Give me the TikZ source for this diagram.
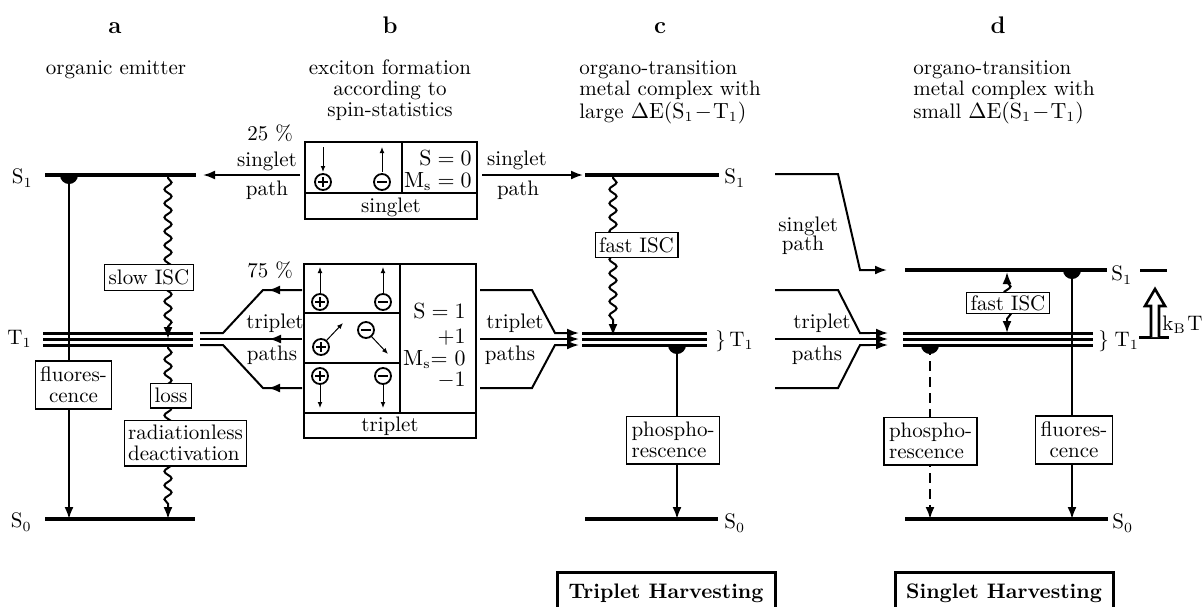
\documentclass[tikz,border=0pt]{standalone}
\usetikzlibrary{arrows.meta,decorations.pathmorphing}
\newcommand\hdisc[2]{\fill (#1-9,#2) arc[start angle=180,end angle=360,radius=4.5pt] -- cycle;}
\begin{document}
\begin{tikzpicture}[x=0.5pt,y=-0.5pt,
  font=\fontsize{10.5}{10.5}\selectfont,
  level/.style={line width=2pt},
  tlev/.style={line width=1.5pt},
  conn/.style={line width=1pt},
  tip/.style={-{Latex[length=6pt,width=4.5pt]}},
  arr/.style={conn,tip},
  wave/.style={conn,decorate,decoration={snake,amplitude=1.8pt,segment length=7pt,pre length=1pt,post length=5pt}},
  box/.style={draw,fill=white,line width=0.6pt,inner xsep=2pt,inner ysep=2.5pt,align=center},
  frame/.style={line width=0.6pt},
  hbox/.style={draw,line width=1.5pt,font=\fontsize{10.5}{11}\selectfont\bfseries,minimum width=109pt,minimum height=21.5pt},
  spin/.style={line width=0.5pt,-{Latex[length=3pt,width=2.4pt]}},
  plab/.style={font=\large\bfseries,anchor=base},
  txt/.style={anchor=base,inner sep=0pt},
  ltxt/.style={anchor=base west,inner sep=0pt},
  pos/.pic={\draw[line width=0.9pt] (0,0) circle[radius=4pt]; \draw[line width=0.8pt] (-2.4pt,0)--(2.4pt,0) (0,-2.4pt)--(0,2.4pt);},
  neg/.pic={\draw[line width=0.9pt] (0,0) circle[radius=4pt]; \draw[line width=0.8pt] (-2.4pt,0)--(2.4pt,0);}
]
\useasboundingbox (0,0) rectangle (1202,606);

% ---------- headings ----------
\node[plab] (la) at (115,33) {a};
\node[plab] (lb) at (390,33) {b};
\node[plab] (lc) at (660,33) {c};
\node[plab] (ld) at (998,33) {d};

\node[txt] (ta) at (116,74) {organic emitter};
\node[txt] (tb1) at (390,74) {exciton formation};
\node[txt] (tb2) at (390,95) {according to};
\node[txt] (tb3) at (390,116) {spin-statistics};
\node[ltxt] (tc1) at (579,74) {organo-transition};
\node[ltxt] (tc2) at (579,95) {metal complex with};
\node[ltxt] (tc3) at (579,118) {large $\Delta\mathrm{E}(\mathrm{S}_1\!-\!\mathrm{T}_1)$};
\node[ltxt] (td1) at (913,74) {organo-transition};
\node[ltxt] (td2) at (913,95) {metal complex with};
\node[ltxt] (td3) at (913,118) {small $\Delta\mathrm{E}(\mathrm{S}_1\!-\!\mathrm{T}_1)$};

% ---------- panel a ----------
\coordinate (aS1a) at (45,175); \coordinate (aS1b) at (196,175);
\coordinate (aS0a) at (45,519); \coordinate (aS0b) at (195,519);
\draw[level] (aS1a) -- (aS1b);
\draw[level] (aS0a) -- (aS0b);
\foreach \y in {333,339,345} \draw[tlev] (43,\y) -- (193,\y);
\node[anchor=east,inner sep=1pt] (aS1l) at (35,178) {S$_1$};
\node[anchor=east,inner sep=1pt] (aT1l) at (34,339) {T$_1$};
\node[anchor=east,inner sep=1pt] (aS0l) at (34,522) {S$_0$};
\hdisc{69}{175}
\draw[arr] (69,175) -- (69,519);
\draw[wave,tip] (168,176) -- (168,339);
\draw[wave,tip] (168,346) -- (168,519);
\node[box,inner xsep=2.5pt,inner ysep=3pt] (fluo) at (73.5,385) {fluores-\\cence};
\node[box] (slow) at (149,277.5) {slow ISC};
\node[box] (loss) at (171,395.5) {loss};
\node[box,align=left] (rad) at (185.5,443) {radiationless\\deactivation};

% arrows into panel a
\coordinate (bS) at (300,175);
\draw[arr] (bS) -- ([xshift=3.5pt]aS1b);
\node[inner sep=0] (p25) at (270,133) {25 \%};
\node[inner sep=0] (sg1) at (267,161) {singlet};
\node[inner sep=0] (pt1) at (267,190) {path};
\node[inner sep=0] (p75) at (270,270) {75 \%};
\node[inner sep=0] (tr1) at (275,323) {triplet};
\node[inner sep=0] (pa1) at (272,355) {paths};
\draw[conn] (302,290) -- (263,290) -- (223,333) -- (200,333);
\draw[conn] (302,339) -- (200,339);
\draw[conn] (302,388) -- (263,388) -- (223,345) -- (200,345);
\draw[arr] (302,290) -- (268,290);
\draw[arr] (302,339) -- (269,339);
\draw[arr] (302,388) -- (268,388);

% ---------- panel b ----------
\draw[frame] (305,142) rectangle (477,219);
\draw[frame] (305,193) -- (477,193) (402,142) -- (402,193);
\node (sgl) at (391,207) {singlet};
\node[anchor=base east,inner sep=0] (s0) at (472,165) {$\mathrm{S}=0$};
\node[anchor=base east,inner sep=0] (ms0) at (472,187) {$\mathrm{M_s}=0$};
\pic at (323,182) {pos};
\pic at (382,182) {neg};
\draw[spin] (323,147) -- (323,172);
\draw[spin] (382,172) -- (382,147);

\draw[frame] (304,264) rectangle (476,438);
\draw[frame] (304,313) -- (400,313) (304,363) -- (400,363) (304,413) -- (476,413) (400,264) -- (400,413);
\node (trl) at (390,426) {triplet};
\node[anchor=base east,inner sep=0] (s1) at (466,318) {$\mathrm{S}=1$};
\node[anchor=base east,inner sep=0] (mp) at (466,343) {$+1$};
\node[anchor=base east,inner sep=0] (m0) at (466,365) {$\mathrm{M_s}{=}\ 0$};
\node[anchor=base east,inner sep=0] (mm) at (466,386) {$-1$};
\pic at (320,302) {pos};
\pic at (383,302) {neg};
\draw[spin] (320,293) -- (320,267);
\draw[spin] (383,293) -- (383,267);
\pic at (321,347) {pos};
\pic at (366,330) {neg};
\draw[spin] (326,341) -- (343,323);
\draw[spin] (371,336) -- (388,354);
\pic at (320,376) {pos};
\pic at (383,376) {neg};
\draw[spin] (320,385) -- (320,408);
\draw[spin] (383,385) -- (383,408);

% ---------- panel c ----------
\coordinate (cS1a) at (585,175); \coordinate (cS1b) at (719,175);
\coordinate (cS0a) at (585,519); \coordinate (cS0b) at (718,519);
\draw[level] (cS1a) -- (cS1b);
\draw[level] (cS0a) -- (cS0b);
\foreach \y in {333,339,345} \draw[tlev] (582,\y) -- (707,\y);
\node[anchor=west,inner sep=1pt] (cS1l) at (722,178) {S$_1$};
\node[anchor=west,inner sep=1pt] (cT1l) at (713,341) {\}\,T$_1$};
\node[anchor=west,inner sep=1pt] (cS0l) at (722,523) {S$_0$};
\draw[arr] (482,175) -- ([xshift=-1pt]cS1a);
\node[inner sep=0] (sg2) at (517,160) {singlet};
\node[inner sep=0] (pt2) at (518,190) {path};
\node[inner sep=0] (tr2) at (515,323) {triplet};
\node[inner sep=0] (pa2) at (510,355) {paths};
\draw[conn] (480,290) -- (532,290) -- (555,333) -- (572,333);
\draw[conn] (480,339) -- (572,339);
\draw[conn] (480,388) -- (532,388) -- (555,345) -- (572,345);
\draw[arr] (560,333) -- (579,333);
\draw[arr] (560,339) -- (579,339);
\draw[arr] (560,345) -- (579,345);
\draw[wave,tip] (613,176) -- (613,336);
\node[box] (fisc1) at (636.5,245) {fast ISC};
\hdisc{677}{345}
\draw[arr] (677,345) -- (677,519);
\node[box,align=left,inner xsep=2.5pt,inner ysep=3pt] (phos1) at (673,440) {phospho-\\rescence};
\node[hbox] (th) at (666,593.5) {Triplet Harvesting};

% ---------- panel d ----------
\coordinate (dS1a) at (905,270); \coordinate (dS1b) at (1107,270);
\coordinate (dS0a) at (905,519); \coordinate (dS0b) at (1108,519);
\draw[level] (dS1a) -- (dS1b);
\draw[level] (dS0a) -- (dS0b);
\foreach \y in {333,339,345} \draw[tlev] (903,\y) -- (1093,\y);
\node[anchor=west,inner sep=1pt] (dS1l) at (1109,275) {S$_1$};
\node[anchor=west,inner sep=1pt] (dT1l) at (1096,341) {\}\;T$_1$};
\node[anchor=west,inner sep=1pt] (dS0l) at (1110,523) {S$_0$};
\draw[arr] (775,174) -- (838,174) -- (860,270) -- (887,270);
\node[anchor=west,inner sep=0,align=left,font=\fontsize{10.5}{9.5}\selectfont] (sg3) at (778,236) {singlet\\\,path};
\node[inner sep=0] (tr3) at (822,323) {triplet};
\node[inner sep=0] (pa3) at (817,355) {paths};
\draw[conn] (775,290) -- (838,290) -- (860,333) -- (870,333);
\draw[conn] (775,339) -- (870,339);
\draw[conn] (775,388) -- (838,388) -- (860,345) -- (870,345);
\draw[arr] (866,333) -- (888,333);
\draw[arr] (866,339) -- (888,339);
\draw[arr] (866,345) -- (888,345);
\draw[wave,{Latex[length=6pt,width=4.5pt]}-{Latex[length=6pt,width=4.5pt]},decoration={pre length=5pt,post length=5pt}] (1007,272) -- (1007,333);
\node[box,inner ysep=1.5pt] (fisc2) at (1008,303) {fast ISC};
\hdisc{1072}{270}
\draw[arr] (1072,270) -- (1072,519);
\hdisc{930}{345}
\draw[arr,dash pattern=on 5pt off 3pt] (930,345) -- (930,519);
\node[box,align=left,inner xsep=2.5pt,inner ysep=3pt] (phos2) at (930.5,441) {phospho-\\rescence};
\node[box,inner xsep=2.5pt,inner ysep=3pt] (fluo2) at (1074,440) {fluores-\\cence};
\node[hbox] (sh) at (1004,593.5) {Singlet Harvesting};

% kB T
\draw[level,line width=1.5pt] (1140,270) -- (1167,270);
\draw[level,line width=1.5pt] (1139,337) -- (1169,337);
\draw[line width=1.3pt,fill=white,line join=miter] (1151,337) -- (1151,306) -- (1145,306) -- (1155,289) -- (1165,306) -- (1159,306) -- (1159,337);
\node[anchor=west,inner sep=0] (kbt) at (1162,325) {k$_\mathrm{B}$\kern0.8pt T};
\end{tikzpicture}
\end{document}
